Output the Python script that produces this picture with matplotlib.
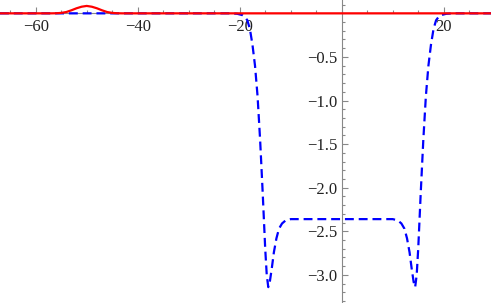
import matplotlib.pyplot as plt
from matplotlib.ticker import MultipleLocator

# blue dashed curve
blue_x = [-67.0, -40.0, -22.0, -20.5, -19.5, -19.0, -18.5, -18.0, -17.5, -17.0,
          -16.5, -16.0, -15.5, -15.0, -14.7, -14.4, -14.1, -13.7, -13.3, -12.8,
          -12.3, -11.7, -11.0, -10.0, 0.0,
          10.0, 11.0, 11.7, 12.3, 12.8, 13.3, 13.7, 14.1, 14.4, 14.7,
          15.0, 15.5, 16.0, 16.5, 17.0, 17.5, 18.0, 18.5, 19.0, 19.5,
          20.5, 22.0, 29.3]
blue_y = [0.0, 0.0, 0.0, -0.005, -0.02, -0.04, -0.08, -0.18, -0.36, -0.60,
          -0.95, -1.45, -2.05, -2.70, -3.00, -3.14, -3.08, -2.92, -2.74, -2.58,
          -2.47, -2.41, -2.375, -2.36, -2.36,
          -2.36, -2.375, -2.41, -2.47, -2.58, -2.74, -2.92, -3.08, -3.14, -3.00,
          -2.70, -2.05, -1.45, -0.95, -0.60, -0.36, -0.18, -0.08, -0.04, -0.02,
          -0.005, 0.0, 0.0]

# red solid curve: small bump near x = -50
red_x = [-67.0, -57.0, -56.0, -55.0, -54.0, -53.0, -52.0, -51.0, -50.0,
         -49.0, -48.0, -47.0, -46.0, -45.0, -44.0, -43.0, 29.3]
red_y = [0.0, 0.0, 0.001, 0.005, 0.015, 0.035, 0.058, 0.076, 0.085,
         0.076, 0.058, 0.035, 0.015, 0.005, 0.001, 0.0, 0.0]

x_major = [-60, -40, -20, 20]
y_major = [-3.0, -2.5, -2.0, -1.5, -1.0, -0.5]

plt.rcParams['font.family'] = ['Liberation Serif', 'DejaVu Serif']

fig = plt.figure(figsize=(4.91, 3.03), dpi=100)
ax = fig.add_axes([0, 0, 1, 1])

ax.plot(blue_x, blue_y, color='#0000ff', lw=1.6, dashes=(4, 2.2), zorder=3)
ax.plot(red_x, red_y, color='#ff0000', lw=1.6, zorder=4)

ax.set_xlim(-67.0, 29.27)
ax.set_ylim(-3.322, 0.153)

# Mathematica style axes crossing at the origin
ax.spines['left'].set_position(('data', 0))
ax.spines['bottom'].set_position(('data', 0))
ax.spines['right'].set_visible(False)
ax.spines['top'].set_visible(False)
for s in ('left', 'bottom'):
    ax.spines[s].set_color('#888888')
    ax.spines[s].set_linewidth(0.8)

ax.set_xticks(x_major)
ax.set_xticklabels(['\u2212' + str(abs(v)) if v < 0 else str(v) for v in x_major])
ax.set_yticks(y_major)
ax.set_yticklabels(['\u2212%.1f' % abs(v) for v in y_major])
ax.xaxis.set_minor_locator(MultipleLocator(5))
ax.yaxis.set_minor_locator(MultipleLocator(0.1))

ax.tick_params(which='both', direction='in', color='#888888', width=0.8,
               labelsize=12, labelcolor='#222222')
ax.tick_params(which='major', length=4.5)
ax.tick_params(which='minor', length=2.5)
ax.tick_params(axis='x', pad=4)
ax.tick_params(axis='y', pad=3)
ax.patch.set_alpha(0)

fig.savefig('out.png', dpi=100)
